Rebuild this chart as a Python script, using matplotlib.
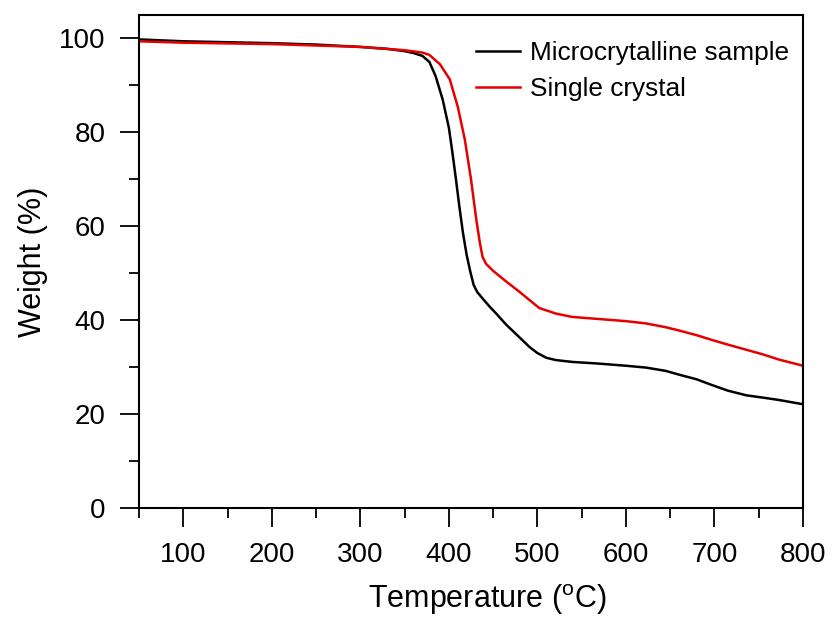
import matplotlib
matplotlib.use("Agg")
import matplotlib.pyplot as plt

plt.rcParams['font.family'] = ['Liberation Sans', 'DejaVu Sans']
plt.rcParams['mathtext.fontset'] = 'custom'
plt.rcParams['mathtext.rm'] = 'Liberation Sans'

temp_micro = [50, 100, 150, 200, 250, 300, 330, 350, 360, 370, 378, 385, 393, 400, 404, 408,
              412, 416, 420, 424, 428, 432, 440, 446, 454, 465, 480, 491, 500, 510, 521, 540,
              566, 600, 623, 645, 660, 680, 697, 715, 736, 755, 773, 800]
weight_micro = [99.8, 99.4, 99.2, 99.0, 98.7, 98.2, 97.8, 97.3, 96.9, 96.3, 95.0, 92.0, 87.0,
                81.0, 75.7, 70.0, 64.0, 58.5, 54.0, 50.5, 47.5, 46.0, 44.2, 42.9, 41.3, 39.0,
                36.3, 34.3, 33.0, 32.0, 31.5, 31.1, 30.8, 30.3, 29.9, 29.2, 28.4, 27.4, 26.2,
                25.0, 24.0, 23.5, 23.0, 22.1]

temp_single = [50, 100, 200, 300, 350, 370, 378, 390, 401, 410, 418, 425, 431, 435, 438, 442,
               450, 465, 480, 491, 502, 521, 539, 566, 600, 623, 645, 660, 680, 697, 715, 736,
               755, 773, 800]
weight_single = [99.4, 99.1, 98.8, 98.2, 97.5, 97.0, 96.5, 94.5, 91.3, 85.5, 78.5, 70.0, 61.4,
                 56.5, 53.5, 52.0, 50.5, 48.2, 46.0, 44.3, 42.6, 41.4, 40.7, 40.3, 39.8, 39.3,
                 38.5, 37.8, 36.8, 35.8, 34.8, 33.7, 32.7, 31.6, 30.3]

labels = ["Microcrytalline sample", "Single crystal"]
colors = ["black", "#e60000"]

fig = plt.figure(figsize=(8.35, 6.34), dpi=100)
ax = fig.add_axes([139/835, 1 - 508/634, (803 - 139)/835, (508 - 15)/634])

ax.plot(temp_micro, weight_micro, color=colors[0], lw=1.8, label=labels[0])
ax.plot(temp_single, weight_single, color=colors[1], lw=1.8, label=labels[1])

ax.set_xlim(50, 800)
ax.set_ylim(0, 105)
ax.set_xticks([100, 200, 300, 400, 500, 600, 700, 800])
ax.set_xticks([50, 150, 250, 350, 450, 550, 650, 750], minor=True)
ax.set_yticks([0, 20, 40, 60, 80, 100])
ax.set_yticks([10, 30, 50, 70, 90], minor=True)
ax.tick_params(which='major', direction='out', length=14, width=1.3, labelsize=20)
ax.tick_params(axis='x', which='major', pad=10.5)
ax.tick_params(axis='y', which='major', pad=10)
ax.tick_params(which='minor', direction='out', length=7, width=1.3)
for s in ax.spines.values():
    s.set_linewidth(1.5)

ax.set_xlabel("Temperature ($^{\\rm o}$C)", fontsize=22)
ax.xaxis.set_label_coords(0.524, -0.150, transform=ax.transAxes)
ax.set_ylabel("Weight (%)", fontsize=22, labelpad=8)

ax.legend(loc='upper right', bbox_to_anchor=(1.018, 1.0), frameon=False, fontsize=18.9,
          handlelength=1.7, handletextpad=0.35, labelspacing=0.45, borderaxespad=0.6)

fig.savefig("out.png", dpi=100)
